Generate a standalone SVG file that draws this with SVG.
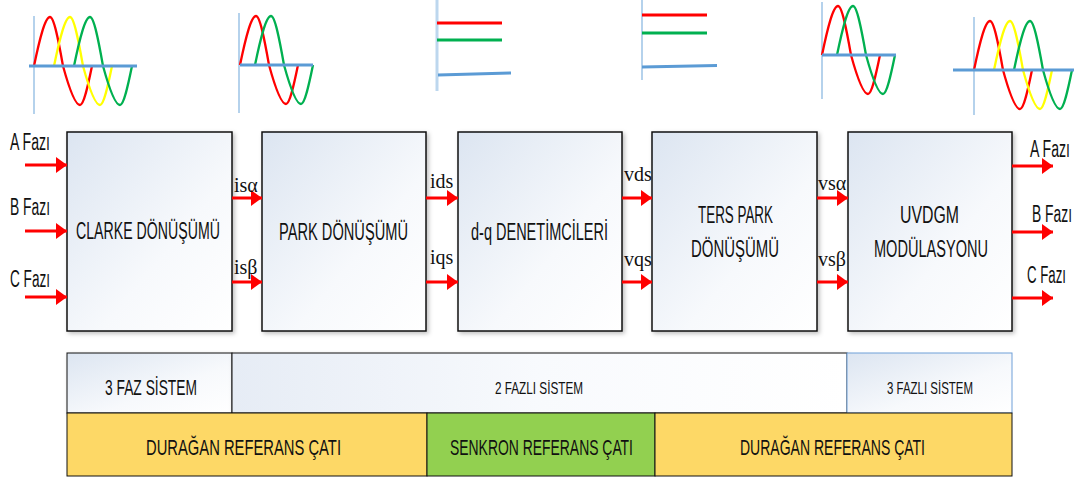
<svg xmlns="http://www.w3.org/2000/svg" width="1081" height="482" viewBox="0 0 1081 482">
<style>
.lbl{font-family:"Liberation Sans",Arial,sans-serif;fill:#111;}
.ser{font-family:"Liberation Serif","Times New Roman",serif;font-size:20px;fill:#111;}
.box{fill:url(#bg);stroke:#111;stroke-width:1.5;filter:url(#sh);}
.arr{stroke:#f00;stroke-width:3;fill:none;marker-end:url(#ah);}
.wr{fill:none;stroke:#f00;stroke-width:2.3;}
.wy{fill:none;stroke:#ff0;stroke-width:2.3;}
.wg{fill:none;stroke:#00b050;stroke-width:2.3;}
.ax{stroke:#5b9bd5;stroke-width:3;}
.vx{stroke:#9dc3e6;stroke-width:1.5;}
</style>
<defs>
<linearGradient id="bg" x1="0" y1="0" x2="1" y2="1">
<stop offset="0" stop-color="#dce5f1"/>
<stop offset="0.6" stop-color="#f7f9fc"/>
<stop offset="1" stop-color="#ffffff"/>
</linearGradient>
<linearGradient id="bg2" x1="0" y1="0" x2="1" y2="0">
<stop offset="0" stop-color="#e6ecf5"/>
<stop offset="0.5" stop-color="#f8fafd"/>
<stop offset="1" stop-color="#ffffff"/>
</linearGradient>
<filter id="sh" x="-5%" y="-5%" width="115%" height="115%">
<feDropShadow dx="2" dy="2" stdDeviation="2" flood-color="#000" flood-opacity="0.25"/>
</filter>
<marker id="ah" markerUnits="userSpaceOnUse" markerWidth="11" markerHeight="16" refX="11" refY="8" orient="auto">
<path d="M0,0 L11,8 L0,16 z" fill="#f00"/>
</marker>
<path id="wave" d="M0,0 C5.2,-25.1 10.9,-49 16,-49 C20.1,-49 24.8,-23.9 29,0 C34.5,20 40.6,39 46,39 C49.8,39 54.1,19 58,0"/>
</defs>

<g id="waveforms">
<line class="vx" x1="34" y1="16" x2="34" y2="114"/>
<use href="#wave" class="wr" transform="translate(34,66)"/>
<use href="#wave" class="wy" transform="translate(54,66)"/>
<use href="#wave" class="wg" transform="translate(74,66)"/>
<line class="ax" x1="29" y1="66" x2="137" y2="66"/>

<line class="vx" x1="239" y1="13" x2="239" y2="113"/>
<use href="#wave" class="wr" transform="translate(240,65)"/>
<use href="#wave" class="wg" transform="translate(255,65)"/>
<line class="ax" x1="240" y1="65" x2="313" y2="65"/>

<line x1="437" y1="0" x2="437" y2="91" stroke="#bdd7ee" stroke-width="3"/>
<line x1="437" y1="23" x2="502" y2="23" stroke="#f00" stroke-width="3"/>
<line x1="437" y1="40" x2="502" y2="40" stroke="#00b050" stroke-width="3"/>
<line class="ax" x1="438" y1="75" x2="511" y2="73"/>

<line class="vx" x1="642" y1="0" x2="642" y2="80"/>
<line x1="642" y1="15" x2="707" y2="15" stroke="#f00" stroke-width="3"/>
<line x1="642" y1="33" x2="707" y2="33" stroke="#00b050" stroke-width="3"/>
<line class="ax" x1="642" y1="67" x2="717" y2="65.5"/>

<line class="vx" x1="822" y1="2" x2="822" y2="99"/>
<use href="#wave" class="wr" transform="translate(822,55)"/>
<use href="#wave" class="wg" transform="translate(837,55)"/>
<line class="ax" x1="822" y1="55" x2="896" y2="55"/>

<line class="vx" x1="974" y1="17" x2="974" y2="115"/>
<use href="#wave" class="wr" transform="translate(974,70)"/>
<use href="#wave" class="wy" transform="translate(994,70)"/>
<use href="#wave" class="wg" transform="translate(1014,70)"/>
<line class="ax" x1="953" y1="70" x2="1074" y2="70"/>
</g>

<g id="clarke">
<rect class="box" x="67" y="132" width="165" height="199"/>
<text class="lbl" x="76" y="239" font-size="23" textLength="144" lengthAdjust="spacingAndGlyphs">CLARKE DÖNÜŞÜMÜ</text>
</g>
<g id="park">
<rect class="box" x="262" y="132" width="164" height="199"/>
<text class="lbl" x="279" y="240" font-size="23" textLength="129" lengthAdjust="spacingAndGlyphs">PARK DÖNÜŞÜMÜ</text>
</g>
<g id="dq">
<rect class="box" x="458" y="132" width="164" height="199"/>
<text class="lbl" x="471" y="240" font-size="23" textLength="137" lengthAdjust="spacingAndGlyphs">d-q DENETİMCİLERİ</text>
</g>
<g id="terspark">
<rect class="box" x="652" y="132" width="165" height="199"/>
<text class="lbl" x="698" y="223" font-size="23" textLength="75" lengthAdjust="spacingAndGlyphs">TERS PARK</text>
<text class="lbl" x="691" y="257" font-size="23" textLength="88" lengthAdjust="spacingAndGlyphs">DÖNÜŞÜMÜ</text>
</g>
<g id="uvdgm">
<rect class="box" x="848" y="132" width="164" height="199"/>
<text class="lbl" x="900" y="223" font-size="23" textLength="59" lengthAdjust="spacingAndGlyphs">UVDGM</text>
<text class="lbl" x="874" y="257" font-size="23" textLength="114" lengthAdjust="spacingAndGlyphs">MODÜLASYONU</text>
</g>

<g id="connectors">
<line class="arr" x1="25" y1="165" x2="67" y2="165"/>
<line class="arr" x1="25" y1="231" x2="67" y2="231"/>
<line class="arr" x1="25" y1="297" x2="67" y2="297"/>
<line class="arr" x1="232" y1="198" x2="262" y2="198"/>
<line class="arr" x1="232" y1="282" x2="262" y2="282"/>
<line class="arr" x1="426" y1="198" x2="458" y2="198"/>
<line class="arr" x1="426" y1="282" x2="458" y2="282"/>
<line class="arr" x1="622" y1="198" x2="652" y2="198"/>
<line class="arr" x1="622" y1="282" x2="652" y2="282"/>
<line class="arr" x1="817" y1="198" x2="848" y2="198"/>
<line class="arr" x1="817" y1="282" x2="848" y2="282"/>
<line class="arr" x1="1012" y1="166" x2="1053" y2="166"/>
<line class="arr" x1="1012" y1="232" x2="1053" y2="232"/>
<line class="arr" x1="1012" y1="298" x2="1053" y2="298"/>
</g>

<g id="labels">
<text class="lbl" x="10" y="150" font-size="23" textLength="40" lengthAdjust="spacingAndGlyphs">A Fazı</text>
<text class="lbl" x="10" y="215" font-size="23" textLength="40" lengthAdjust="spacingAndGlyphs">B Fazı</text>
<text class="lbl" x="10" y="287" font-size="23" textLength="40" lengthAdjust="spacingAndGlyphs">C Fazı</text>
<text class="lbl" x="1030" y="157" font-size="23" textLength="40" lengthAdjust="spacingAndGlyphs">A Fazı</text>
<text class="lbl" x="1032" y="222" font-size="23" textLength="40" lengthAdjust="spacingAndGlyphs">B Fazı</text>
<text class="lbl" x="1027" y="283" font-size="23" textLength="39" lengthAdjust="spacingAndGlyphs">C Fazı</text>
<text class="ser" x="234" y="192">isα</text>
<text class="ser" x="234" y="274">isβ</text>
<text class="ser" x="430" y="188">ids</text>
<text class="ser" x="430" y="264">iqs</text>
<text class="ser" x="624" y="181">vds</text>
<text class="ser" x="624" y="266">vqs</text>
<text class="ser" x="818" y="190">vsα</text>
<text class="ser" x="818" y="266">vsβ</text>
</g>

<g id="systems">
<rect x="67" y="353" width="165" height="60" fill="url(#bg)" stroke="#111" stroke-width="1" filter="url(#sh)"/>
<text class="lbl" x="105" y="395" font-size="22" textLength="92" lengthAdjust="spacingAndGlyphs">3 FAZ SİSTEM</text>
<rect x="232" y="353" width="615" height="60" fill="url(#bg2)" stroke="#111" stroke-width="1" filter="url(#sh)"/>
<text class="lbl" x="495" y="394" font-size="17" textLength="88" lengthAdjust="spacingAndGlyphs">2 FAZLI SİSTEM</text>
<rect x="847" y="353" width="165" height="60" fill="url(#bg)" stroke="#6f9fd8" stroke-width="1"/>
<text class="lbl" x="887" y="394" font-size="17" textLength="86" lengthAdjust="spacingAndGlyphs">3 FAZLI SİSTEM</text>
</g>
<g id="frames">
<rect x="67" y="413" width="360" height="63" fill="#fdd866" stroke="#111" stroke-width="1"/>
<text class="lbl" x="146" y="455" font-size="22" textLength="195" lengthAdjust="spacingAndGlyphs">DURAĞAN REFERANS ÇATI</text>
<rect x="427" y="413" width="228" height="63" fill="#92d050" stroke="#111" stroke-width="1"/>
<text class="lbl" x="450" y="455" font-size="22" textLength="183" lengthAdjust="spacingAndGlyphs">SENKRON REFERANS ÇATI</text>
<rect x="655" y="413" width="357" height="63" fill="#fdd866" stroke="#111" stroke-width="1"/>
<text class="lbl" x="740" y="455" font-size="22" textLength="185" lengthAdjust="spacingAndGlyphs">DURAĞAN REFERANS ÇATI</text>
</g>
</svg>
